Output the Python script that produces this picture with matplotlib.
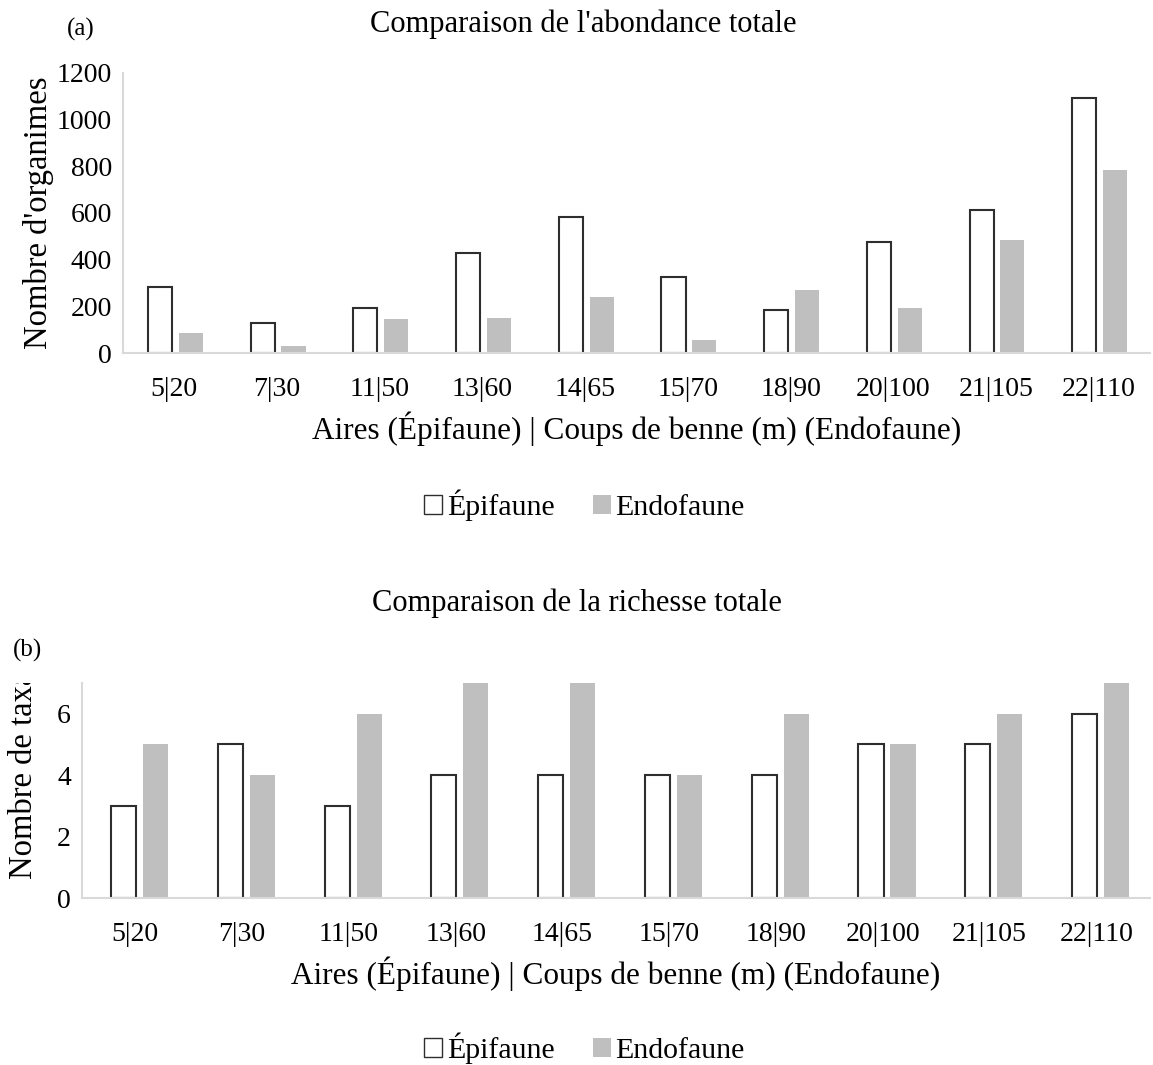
import numpy as np
import matplotlib.pyplot as plt
from matplotlib.patches import Patch
from matplotlib.transforms import Bbox, TransformedBbox

plt.rcParams['font.family'] = ['Liberation Serif', 'DejaVu Serif']

categories = ['5|20', '7|30', '11|50', '13|60', '14|65', '15|70', '18|90', '20|100', '21|105', '22|110']
abond_epi = [283, 129, 194, 430, 583, 326, 183, 474, 611, 1093]
abond_endo = [87, 31, 147, 151, 241, 54, 269, 191, 483, 783]
rich_epi = [3, 5, 3, 4, 4, 4, 4, 5, 5, 6]
rich_endo = [5, 4, 6, 7, 7, 4, 6, 5, 6, 7]

grey = '#bfbfbf'
spine = '#d9d9d9'
edge = '#2e2e2e'
xlab = 'Aires (Épifaune) | Coups de benne (m) (Endofaune)'

fig = plt.figure(figsize=(11.53, 10.65), dpi=100)
ax1 = fig.add_axes([0.1067, 0.6685, 0.8907, 0.263])
ax2 = fig.add_axes([0.0711, 0.1568, 0.926, 0.2019])

x = np.arange(len(categories))
w = 0.235

def draw(ax, epi, endo, ymax, yticks, shift):
    ax.bar(x - 0.14 + shift, epi, w, color='white', edgecolor=edge, linewidth=1.5)
    ax.bar(x + 0.16 + shift, endo, w, color=grey)
    ax.set_xlim(-0.5, len(categories) - 0.5)
    ax.set_ylim(0, ymax)
    ax.set_yticks(yticks)
    ax.set_xticks(x)
    ax.set_xticklabels(categories)
    ax.tick_params(length=0, labelsize=20)
    ax.tick_params(axis='x', pad=17)
    ax.tick_params(axis='y', pad=8)
    for s in ['top', 'right']:
        ax.spines[s].set_visible(False)
    for s in ['left', 'bottom']:
        ax.spines[s].set_color(spine)
        ax.spines[s].set_linewidth(1.5)
    ax.set_xlabel(xlab, fontsize=22.5, labelpad=7)

draw(ax1, abond_epi, abond_endo, 1200, np.arange(0, 1201, 200), 0)
draw(ax2, rich_epi, rich_endo, 7, [0, 2, 4, 6], 0.03)

ax1.set_ylabel("Nombre d'organimes", fontsize=23.5, labelpad=2)

fig.text(0.506, 0.977, "Comparaison de l'abondance totale", ha='center', va='center', fontsize=22)
fig.text(0.07, 0.972, '(a)', ha='center', va='center', fontsize=18)
fig.text(0.5, 0.434, 'Comparaison de la richesse totale', ha='center', va='center', fontsize=22)
fig.text(0.024, 0.389, '(b)', ha='center', va='center', fontsize=18)

yl = fig.text(0.021, 0.175, 'Nombre de taxa', rotation=90, ha='center', va='bottom', fontsize=23.5)
yl.set_clip_box(TransformedBbox(Bbox([[0, 0], [0.07, 0.3587]]), fig.transFigure))
yl.set_clip_on(True)

handles = [Patch(facecolor='white', edgecolor=edge, linewidth=1.0, label='Épifaune'),
           Patch(facecolor=grey, label='Endofaune')]
for yy in [0.526, 0.016]:
    fig.legend(handles=handles, loc='center', bbox_to_anchor=(0.507, yy), ncol=2, frameon=False,
               fontsize=21.5, handlelength=0.6, handleheight=0.6, handletextpad=0.15, columnspacing=1.3)

fig.savefig('out.png', dpi=100)
